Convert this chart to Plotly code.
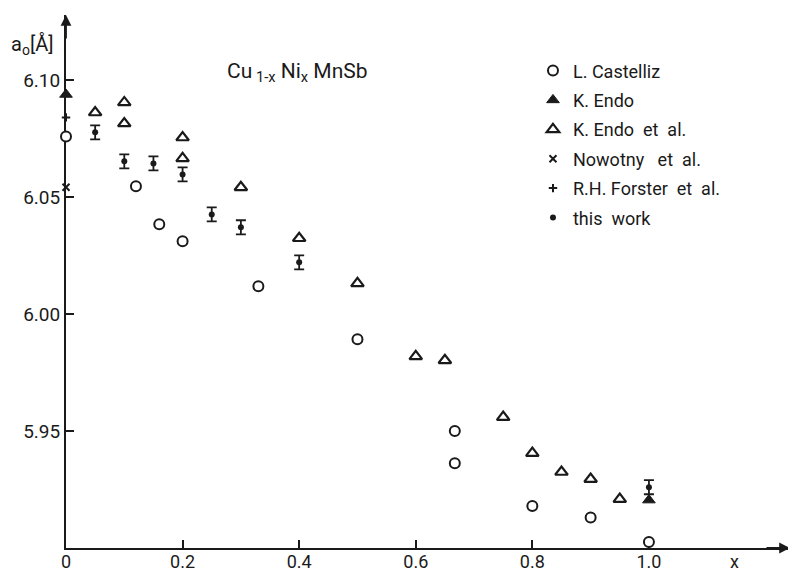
import plotly.graph_objects as go

# ---- data ----
castelliz_x = [0.0, 0.12, 0.16, 0.2, 0.33, 0.5, 0.667, 0.667, 0.8, 0.9, 1.0]
castelliz_y = [6.076, 6.0547, 6.0385, 6.0312, 6.012, 5.9893, 5.950, 5.9363, 5.918, 5.913, 5.9026]

endo_x = [0.0, 1.0]
endo_y = [6.094, 5.9205]

endo_al_x = [0.05, 0.1, 0.1, 0.2, 0.2, 0.3, 0.4, 0.5, 0.6, 0.65, 0.75, 0.8, 0.85, 0.9, 0.95]
endo_al_y = [6.0863, 6.0906, 6.0816, 6.0756, 6.0667, 6.0543, 6.0325, 6.0132, 5.982, 5.9803,
             5.956, 5.9406, 5.9325, 5.9295, 5.9209]

nowotny_x = [0.0]
nowotny_y = [6.0543]

forster_x = [0.0]
forster_y = [6.0842]

this_x = [0.05, 0.1, 0.15, 0.2, 0.25, 0.3, 0.4, 1.0]
this_y = [6.0778, 6.0654, 6.0645, 6.0598, 6.0427, 6.0372, 6.0222, 5.926]
this_err = [0.003, 0.003, 0.003, 0.003, 0.003, 0.003, 0.003, 0.003]

x_ticks = [0, 0.2, 0.4, 0.6, 0.8, 1.0]
x_ticklabels = ["0", "0.2", "0.4", "0.6", "0.8", "1.0"]
y_ticks = [5.95, 6.00, 6.05, 6.10]
y_ticklabels = ["5.95", "6.00", "6.05", "6.10"]

X_MAX = 1.242
Y_MIN, Y_MAX = 5.9, 6.128

INK = "#1a1a1a"
FONT = "Roboto, DejaVu Sans"

fig = go.Figure()

fig.add_trace(go.Scatter(
    x=castelliz_x, y=castelliz_y, mode="markers", name="L. Castelliz",
    legendgroup="a",
    marker=dict(symbol="circle", size=10, color="white", line=dict(color=INK, width=2)),
    cliponaxis=False))
fig.add_trace(go.Scatter(
    x=endo_x, y=endo_y, mode="markers", name="K. Endo",
    legendgroup="b",
    marker=dict(symbol="triangle-up", size=11, color=INK, line=dict(color=INK, width=1)),
    cliponaxis=False))
fig.add_trace(go.Scatter(
    x=endo_al_x, y=endo_al_y, mode="markers", name="K. Endo  et  al.",
    legendgroup="c",
    marker=dict(symbol="triangle-up", size=11, color="white", line=dict(color=INK, width=2.2)),
    cliponaxis=False))
fig.add_trace(go.Scatter(
    x=nowotny_x, y=nowotny_y, mode="markers", name="Nowotny   et  al.",
    legendgroup="d",
    marker=dict(symbol="x-thin", size=7, color=INK, line=dict(color=INK, width=2)),
    cliponaxis=False))
fig.add_trace(go.Scatter(
    x=forster_x, y=forster_y, mode="markers", name="R.H. Forster  et  al.",
    legendgroup="e",
    marker=dict(symbol="cross-thin", size=6, color=INK, line=dict(color=INK, width=2)),
    cliponaxis=False))
fig.add_trace(go.Scatter(
    x=this_x, y=this_y, mode="markers", name="this  work",
    legendgroup="f",
    marker=dict(symbol="circle", size=6, color=INK),
    error_y=dict(type="data", array=this_err, color=INK, thickness=1.8, width=5),
    cliponaxis=False))

axis_common = dict(
    showline=True, linecolor=INK, linewidth=2, showgrid=False, zeroline=False,
    ticks="inside", ticklen=8, tickwidth=1.5, tickcolor=INK, layer="below traces",
    mirror=False, automargin=False,
)

# the page body adds an 8 px offset, so the figure is 8 px smaller and margins shifted
fig.update_layout(
    template="none",
    width=788, height=567,
    margin=dict(l=58, r=6, t=7, b=27),
    paper_bgcolor="white", plot_bgcolor="white",
    xaxis=dict(range=[0, X_MAX], tickvals=x_ticks, ticktext=x_ticklabels,
               tickfont=dict(family=FONT, size=18, color=INK), ticklabelstandoff=-4,
               **axis_common),
    yaxis=dict(range=[Y_MIN, Y_MAX], tickvals=y_ticks, ticktext=y_ticklabels,
               tickfont=dict(family=FONT, size=19, color=INK), **axis_common),
    showlegend=True,
    legend=dict(x=0.645, y=0.93, xanchor="left", yanchor="top",
                font=dict(family=FONT, size=18, color=INK),
                bgcolor="rgba(0,0,0,0)", tracegroupgap=3, itemsizing="trace"),
    font=dict(family=FONT, color=INK),
)

# axis arrows
fig.add_annotation(x=0, y=Y_MAX, xref="x", yref="y", ax=0, ay=25, axref="pixel", ayref="pixel",
                   showarrow=True, arrowhead=2, arrowsize=1.2, arrowwidth=1.8, arrowcolor=INK, text="")
fig.add_annotation(x=X_MAX, y=Y_MIN, xref="x", yref="y", ax=-25, ay=0, axref="pixel", ayref="pixel",
                   showarrow=True, arrowhead=2, arrowsize=1.2, arrowwidth=1.8, arrowcolor=INK, text="")

# texts
fig.add_annotation(x=0.32, y=0.893, xref="paper", yref="paper", showarrow=False,
                   xanchor="center", yanchor="middle",
                   text="Cu<sub> 1-x</sub> Ni<sub>x</sub> MnSb",
                   font=dict(family=FONT, size=21, color=INK))
fig.add_annotation(x=-0.079, y=0.944, xref="paper", yref="paper", showarrow=False,
                   xanchor="left", yanchor="middle",
                   text="a<sub>o</sub>[Å]", font=dict(family=FONT, size=20, color=INK))
fig.add_annotation(x=0.924, y=-0.025, xref="paper", yref="paper", showarrow=False,
                   xanchor="center", yanchor="middle",
                   text="x", font=dict(family=FONT, size=18, color=INK))

fig.write_html("out.html")
